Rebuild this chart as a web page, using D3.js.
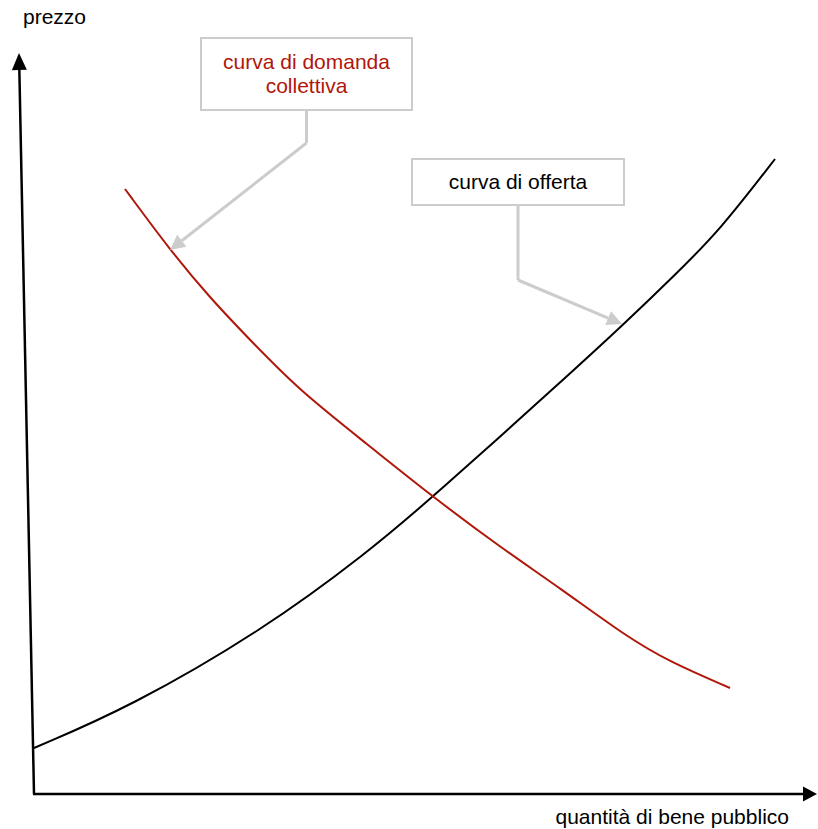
<!DOCTYPE html>
<html>
<head>
<meta charset="utf-8">
<script src="https://d3js.org/d3.v7.min.js"></script>
<style>
  body { margin: 0; background: #fff; }
  svg { display: block; font-family: "Liberation Sans", Arial, sans-serif; }
</style>
</head>
<body>
<div id="chart"></div>
<script>
// values (quantity, price)
var supplyQ = [0, 96, 229, 333, 399, 529, 589, 643, 686, 741];
var supplyP = [46, 87, 164, 241, 297, 414, 469, 521, 564, 635];
var demandQ = [91, 136, 176, 219, 266, 333, 399, 466, 526, 593, 636, 696];
var demandP = [605, 544, 496, 451, 403, 350, 297, 247, 206, 157, 132, 106];
var axisTitles = ["prezzo", "quantità di bene pubblico"];
var demandLabel = ["curva di domanda", "collettiva"];
var supplyLabel = ["curva di offerta"];

var width = 818, height = 829;
var red = "#b0170b", grey = "#cccccc";

var svg = d3.select("#chart").append("svg")
  .attr("width", width)
  .attr("height", height);

var x = d3.scaleLinear().domain([0, 780]).range([34, 814]);
var y = d3.scaleLinear().domain([0, 740]).range([794, 54]);

// line + filled triangle head
function arrow(g, x1, y1, x2, y2, len, half, color, sw) {
  var a = Math.atan2(y2 - y1, x2 - x1);
  var bx = x2 - len * Math.cos(a), by = y2 - len * Math.sin(a);
  g.append("line")
    .attr("x1", x1).attr("y1", y1).attr("x2", bx).attr("y2", by)
    .attr("stroke", color).attr("stroke-width", sw);
  var nx = -Math.sin(a) * half, ny = Math.cos(a) * half;
  g.append("path")
    .attr("d", "M" + x2 + "," + y2 + "L" + (bx + nx) + "," + (by + ny) + "L" + (bx - nx) + "," + (by - ny) + "Z")
    .attr("fill", color);
}

// axes
var axes = svg.append("g");
arrow(axes, x(0), y(0), x(0) - 15, y(740) - 1, 17, 7.5, "#000", 2.5);
arrow(axes, x(0) - 1, y(0), x(783), y(0), 14, 7.5, "#000", 2.5);

axes.append("text")
  .attr("x", 23).attr("y", 24)
  .attr("font-size", 21)
  .text(axisTitles[0]);
axes.append("text")
  .attr("x", 789).attr("y", 824)
  .attr("text-anchor", "end")
  .attr("font-size", 21)
  .text(axisTitles[1]);

// curves
var line = d3.line()
  .x(function (d) { return x(d[0]); })
  .y(function (d) { return y(d[1]); })
  .curve(d3.curveBasis);

var supply = supplyQ.map(function (q, i) { return [q, supplyP[i]]; });
var demand = demandQ.map(function (q, i) { return [q, demandP[i]]; });

svg.append("path")
  .datum(supply)
  .attr("d", line)
  .attr("fill", "none")
  .attr("stroke", "#000")
  .attr("stroke-width", 2);

svg.append("path")
  .datum(demand)
  .attr("d", line)
  .attr("fill", "none")
  .attr("stroke", red)
  .attr("stroke-width", 2);

// callouts
var notes = svg.append("g");

notes.append("rect")
  .attr("x", 201).attr("y", 38).attr("width", 211).attr("height", 72)
  .attr("fill", "#fff").attr("stroke", grey).attr("stroke-width", 2);
notes.selectAll("text.dem")
  .data(demandLabel)
  .enter().append("text")
  .attr("class", "dem")
  .attr("x", 306.5)
  .attr("y", function (d, i) { return 69 + i * 24; })
  .attr("text-anchor", "middle")
  .attr("font-size", 21)
  .attr("fill", red)
  .text(function (d) { return d; });
notes.append("line")
  .attr("x1", 306.5).attr("y1", 111).attr("x2", 306.5).attr("y2", 143)
  .attr("stroke", grey).attr("stroke-width", 3);
arrow(notes, 306.5, 143, x(demandQ[1]), y(demandP[1]), 15, 7.5, grey, 3);

notes.append("rect")
  .attr("x", 412).attr("y", 159).attr("width", 212).attr("height", 46)
  .attr("fill", "#fff").attr("stroke", grey).attr("stroke-width", 2);
notes.append("text")
  .attr("x", 518).attr("y", 189)
  .attr("text-anchor", "middle")
  .attr("font-size", 21)
  .attr("fill", "#000")
  .text(supplyLabel[0]);
notes.append("line")
  .attr("x1", 518).attr("y1", 206).attr("x2", 518).attr("y2", 280)
  .attr("stroke", grey).attr("stroke-width", 3);
arrow(notes, 518, 280, x(supplyQ[6]) - 1, y(supplyP[6]) - 1, 15, 7.5, grey, 3);
</script>
</body>
</html>
